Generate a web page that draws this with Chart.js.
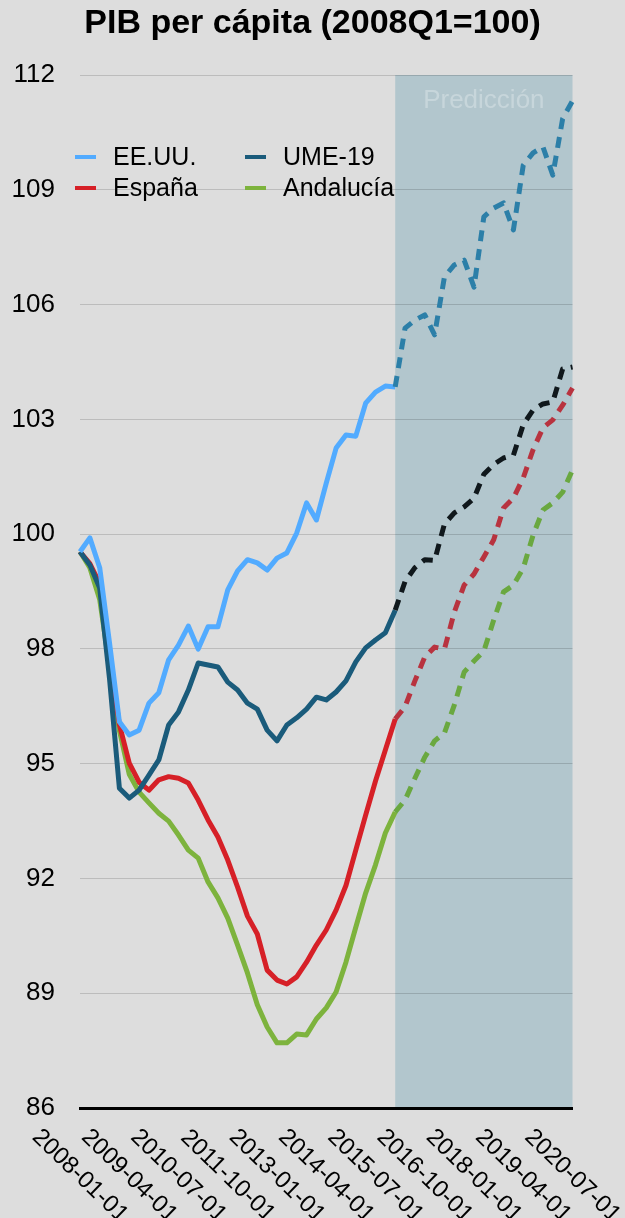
<!DOCTYPE html>
<html>
<head>
<meta charset="utf-8">
<script src="https://cdn.jsdelivr.net/npm/chart.js@4/dist/chart.umd.min.js"></script>
<style>
  html, body { margin: 0; padding: 0; background: #dddddd; }
  #wrap { width: 625px; height: 1218px; position: relative; }
</style>
</head>
<body>
<div id="wrap"><canvas id="myChart"></canvas></div>
<script>
// quarters 2008Q1 .. 2020Q3
const quarters = [];
for (let y = 2008; y <= 2020; y++) {
  ['01', '04', '07', '10'].forEach(m => quarters.push(y + '-' + m + '-01'));
}
quarters.length = 51;

const forecastStart = 32; // first forecast segment starts here

const usa = [
  100.0, 100.35, 99.6, 97.7, 95.72, 95.39, 95.51, 96.19, 96.45, 97.28,
  97.65, 98.13, 97.55, 98.11, 98.11, 99.04, 99.52, 99.8, 99.72, 99.54,
  99.84, 99.97, 100.47, 101.23, 100.8, 101.73, 102.61, 102.94, 102.91, 103.74,
  104.02, 104.17, 104.15, 105.63, 105.83, 105.96, 105.46, 106.92, 107.22, 107.34,
  106.66, 108.43, 108.65, 108.78, 108.10, 109.73, 110.04, 110.19, 109.48, 110.9,
  111.35
];
const ume = [
  100.0, 99.67, 99.09, 96.8, 94.05, 93.8, 94.0, 94.38, 94.76, 95.64,
  95.97, 96.52, 97.2, 97.15, 97.1, 96.72, 96.52, 96.19, 96.04, 95.51,
  95.24, 95.64, 95.82, 96.04, 96.34, 96.27, 96.47, 96.75, 97.23, 97.58,
  97.78, 97.96, 98.53, 99.25, 99.6, 99.8, 99.78, 100.7, 100.98, 101.13,
  101.35, 101.95, 102.2, 102.36, 102.43, 103.2, 103.57, 103.72, 103.77, 104.6,
  104.65
];
const espana = [
  100.0, 99.7, 99.2, 97.3, 95.65, 94.68, 94.2, 94.0, 94.26, 94.34,
  94.3, 94.18, 93.75, 93.25, 92.82, 92.24, 91.56, 90.83, 90.38, 89.47,
  89.22, 89.12, 89.3, 89.67, 90.1, 90.48, 90.98, 91.6, 92.49, 93.37,
  94.23, 95.01, 95.79, 96.1, 96.75, 97.35, 97.6, 97.55, 98.48, 99.16,
  99.44, 99.87, 100.3, 101.1, 101.35, 101.86, 102.57, 103.12, 103.32, 103.69,
  104.12
];
const andalucia = [
  100.0, 99.6, 98.8, 97.1, 95.5, 94.4, 93.95, 93.68, 93.42, 93.22,
  92.87, 92.49, 92.29, 91.69, 91.29, 90.78, 90.1, 89.4, 88.6, 88.04,
  87.64, 87.64, 87.86, 87.84, 88.24, 88.52, 88.92, 89.67, 90.55, 91.41,
  92.12, 92.92, 93.45, 93.75, 94.3, 94.83, 95.24, 95.44, 96.14, 96.97,
  97.25, 97.5, 98.28, 98.99, 99.16, 99.59, 100.42, 101.05, 101.23, 101.5,
  102.06
];

const yMin = 86, yMax = 112;
const yTickLabels = ['86', '89', '92', '95', '98', '100', '103', '106', '109', '112'];

const FONT = '"Liberation Sans", Arial, Helvetica, sans-serif';

function series(label, values, color, fcColor) {
  return {
    label: label,
    data: values,
    borderColor: color,
    legendColor: color,
    borderWidth: 5,
    pointRadius: 0,
    tension: 0,
    borderJoinStyle: 'round',
    segment: {
      borderColor: ctx => ctx.p0DataIndex >= forecastStart ? fcColor : undefined,
      borderDash: ctx => ctx.p0DataIndex >= forecastStart ? [11, 8] : undefined
    }
  };
}

const datasets = [
  series('EE.UU.', usa, '#52abff', '#2c7fa8'),
  series('UME-19', ume, '#1a5b7b', '#10181c'),
  series('España', espana, '#d62027', '#b8333f'),
  series('Andalucía', andalucia, '#7db33d', '#6aa840')
];

const decor = {
  id: 'decor',
  beforeDraw(chart) {
    const {ctx, chartArea: a, scales: {x}} = chart;
    ctx.save();
    ctx.fillStyle = '#dddddd';
    ctx.fillRect(0, 0, chart.width, chart.height);
    const x0 = x.getPixelForValue(forecastStart);
    ctx.fillStyle = '#b2c6cd';
    ctx.fillRect(x0, a.top, a.right - x0, a.bottom - a.top);
    ctx.restore();
  },
  beforeDatasetsDraw(chart) {
    const {ctx, chartArea: a, scales: {x}} = chart;
    const x0 = x.getPixelForValue(forecastStart);
    ctx.save();
    ctx.font = '26px ' + FONT;
    ctx.fillStyle = 'rgba(255,255,255,0.28)';
    ctx.textAlign = 'center';
    ctx.textBaseline = 'middle';
    ctx.fillText('Predicción', (x0 + a.right) / 2, a.top + 26);
    ctx.restore();
  },
  afterDraw(chart) {
    const {ctx, chartArea: a, scales: {x}} = chart;
    ctx.save();
    // legend, two columns
    ctx.font = '25px ' + FONT;
    ctx.textBaseline = 'middle';
    ctx.textAlign = 'left';
    chart.data.datasets.forEach((ds, k) => {
      const col = k % 2, row = Math.floor(k / 2);
      const lx = a.left - 5 + col * 170;
      const ly = a.top + 82 + row * 31;
      ctx.strokeStyle = ds.legendColor;
      ctx.lineWidth = 4;
      ctx.beginPath();
      ctx.moveTo(lx, ly);
      ctx.lineTo(lx + 21, ly);
      ctx.stroke();
      ctx.fillStyle = '#000';
      ctx.fillText(ds.label, lx + 38, ly + 1);
    });
    // rotated x labels every 5 quarters
    ctx.font = '24px ' + FONT;
    ctx.textAlign = 'center';
    ctx.fillStyle = '#000';
    quarters.forEach((q, i) => {
      if (i % 5 !== 0) return;
      ctx.save();
      ctx.translate(x.getPixelForValue(i), a.bottom + 68);
      ctx.rotate(44 * Math.PI / 180);
      ctx.fillText(q, 0, 0);
      ctx.restore();
    });
    ctx.restore();
  }
};

new Chart(document.getElementById('myChart'), {
  type: 'line',
  data: { labels: quarters, datasets: datasets },
  options: {
    responsive: true,
    maintainAspectRatio: false,
    animation: false,
    layout: { padding: { left: 0, right: 0, bottom: 110, top: 0 } },
    plugins: {
      legend: { display: false },
      tooltip: { enabled: false },
      title: {
        display: true,
        text: 'PIB per cápita (2008Q1=100)',
        color: '#000',
        font: { family: FONT, size: 34, weight: 'bold' },
        padding: { top: 3, bottom: 31.2 }
      }
    },
    scales: {
      x: {
        offset: false,
        grid: { display: false, drawTicks: false },
        border: { display: true, color: '#000', width: 3 },
        ticks: { display: false }
      },
      y: {
        min: yMin,
        max: yMax,
        afterBuildTicks: scale => {
          scale.ticks = yTickLabels.map((t, k) => ({
            value: yMin + k * (yMax - yMin) / (yTickLabels.length - 1)
          }));
        },
        afterFit: scale => { scale.width = 80; },
        grid: { color: 'rgba(0,0,0,0.15)', lineWidth: 1, drawTicks: false },
        border: { display: false },
        ticks: {
          autoSkip: false,
          padding: 25,
          color: '#000',
          font: { family: FONT, size: 26 },
          callback: (v, i) => yTickLabels[i]
        }
      },
      // empty right-hand axis, only keeps the margin on the right
      yRight: {
        position: 'right',
        min: yMin,
        max: yMax,
        afterFit: scale => { scale.width = 52.5; },
        grid: { display: false, drawTicks: false },
        border: { display: false },
        ticks: { display: false }
      }
    }
  },
  plugins: [decor]
});
</script>
</body>
</html>
